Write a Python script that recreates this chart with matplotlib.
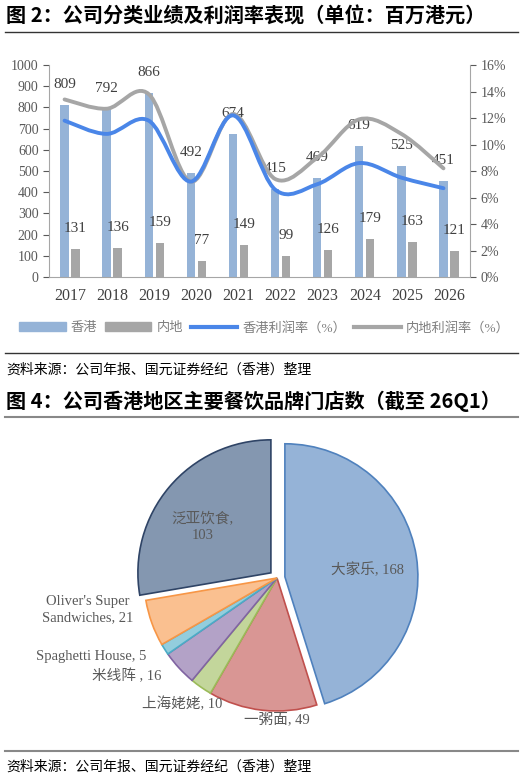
import numpy as np
import matplotlib
matplotlib.use("Agg")
import matplotlib.pyplot as plt
from matplotlib.path import Path
from matplotlib.patches import PathPatch, Patch
from matplotlib.lines import Line2D

FAM = ['Liberation Serif', 'Noto Sans CJK SC']
plt.rcParams['font.family'] = FAM

years = ['2017','2018','2019','2020','2021','2022','2023','2024','2025','2026']
hk = [809, 792, 866, 492, 674, 415, 469, 619, 525, 451]
ml = [131, 136, 159, 77, 149, 99, 126, 179, 163, 121]
hk_margin = [11.8, 10.8, 11.8, 7.2, 12.2, 6.6, 7.0, 8.6, 7.5, 6.7]
ml_margin = [13.4, 12.7, 13.8, 7.2, 12.3, 7.4, 9.0, 11.9, 10.8, 8.2]

brands = ['大家乐', '一粥面', '上海姥姥', '米线阵', 'Spaghetti House', "Oliver's Super Sandwiches", '泛亚饮食']
stores = [168, 49, 10, 16, 5, 21, 103]

W, H = 529, 780
fig = plt.figure(figsize=(W/100, H/100), dpi=100)

def fy(py): return 1 - py/H
def fx(px): return px/W

# headers
fig.text(fx(6), fy(16), '图 2：公司分类业绩及利润率表现（单位：百万港元）', fontsize=14.5, fontweight='bold',
         family=['Noto Sans CJK SC'], va='center')
fig.add_artist(Line2D([fx(5), fx(518)], [fy(32)]*2, color='#333333', lw=1))
fig.add_artist(Line2D([fx(5), fx(518)], [fy(353)]*2, color='#333333', lw=1))
fig.text(fx(6), fy(370), '资料来源：公司年报、国元证券经纪（香港）整理', fontsize=10, style='italic',
         family=['Noto Sans CJK SC'], va='center')
fig.text(fx(6), fy(401), '图 4：公司香港地区主要餐饮品牌门店数（截至 26Q1）', fontsize=14.5, fontweight='bold',
         family=['Noto Sans CJK SC'], va='center')
fig.add_artist(Line2D([fx(5), fx(518)], [fy(417)]*2, color='#888888', lw=1.5))
fig.add_artist(Line2D([fx(5), fx(518)], [fy(751)]*2, color='#888888', lw=1.5))
fig.text(fx(6), fy(767), '资料来源：公司年报、国元证券经纪（香港）整理', fontsize=10, style='italic',
         family=['Noto Sans CJK SC'], va='center')

# ---- top chart
ax = fig.add_axes([fx(49), fy(277), fx(421), (277-65)/H])
x = np.arange(len(years))
c_hk, c_ml = '#95B3D7', '#A6A6A6'
ax.bar(x-0.13, hk, 0.2, color=c_hk)
ax.bar(x+0.13, ml, 0.2, color=c_ml)
for i in range(len(x)):
    ax.text(x[i]-0.13, hk[i]+97, str(hk[i]), ha='center', va='center', fontsize=11, color='#404040')
    ax.text(x[i]+0.13, ml[i]+97, str(ml[i]), ha='center', va='center', fontsize=11, color='#404040')
ax.set_ylim(0, 1000)
ax.set_xlim(-0.5, len(x)-0.5)
ax.set_yticks(range(0, 1001, 100))
ax.set_xticks(x)
ax.set_xticklabels(years, fontsize=11.5, color='#404040')
ax.tick_params(axis='y', labelsize=10, colors='#595959', length=4)
ax.tick_params(axis='x', length=0, pad=8)
for s in ['top', 'right']:
    ax.spines[s].set_visible(False)
ax.spines['left'].set_color('#A6A6A6')
ax.spines['bottom'].set_color('#A6A6A6')

ax2 = ax.twinx()
ax2.set_ylim(0, 16)
ax2.set_yticks(range(0, 17, 2))
ax2.set_yticklabels([f'{v}%' for v in range(0, 17, 2)])
ax2.tick_params(axis='y', labelsize=10, colors='#595959', length=4)
for s in ['top', 'left', 'bottom']:
    ax2.spines[s].set_visible(False)
ax2.spines['right'].set_color('#A6A6A6')

def smooth(axis, xs, ys, color, lw):
    xs = np.asarray(xs, float); ys = np.asarray(ys, float)
    verts = [(xs[0], ys[0])]; codes = [Path.MOVETO]
    n = len(xs)
    for i in range(n-1):
        p0 = (xs[max(i-1, 0)], ys[max(i-1, 0)])
        p1 = (xs[i], ys[i]); p2 = (xs[i+1], ys[i+1])
        p3 = (xs[min(i+2, n-1)], ys[min(i+2, n-1)])
        t = 1/6
        c1 = (p1[0]+(p2[0]-p0[0])*t, p1[1]+(p2[1]-p0[1])*t)
        c2 = (p2[0]-(p3[0]-p1[0])*t, p2[1]-(p3[1]-p1[1])*t)
        verts += [c1, c2, p2]; codes += [Path.CURVE4]*3
    axis.add_patch(PathPatch(Path(verts, codes), fill=False, edgecolor=color, lw=lw, capstyle='round'))

smooth(ax2, x-0.13, ml_margin, '#A6A6A6', 2.8)
smooth(ax2, x-0.13, hk_margin, '#4A86E8', 2.8)

handles = [Patch(color=c_hk), Patch(color=c_ml),
           Line2D([], [], color='#4A86E8', lw=3), Line2D([], [], color='#A6A6A6', lw=3)]
labels = ['香港', '内地', '香港利润率（%）', '内地利润率（%）']
fig.legend(handles, labels, loc='center', bbox_to_anchor=(0.5, fy(328)), ncol=4, frameon=False,
           fontsize=9.5, labelcolor='#7F7F7F', handlelength=3.5, columnspacing=0.6, handletextpad=0.4)

# ---- pie
cx, cy, r = 277, 578, 133
axp = fig.add_axes([fx(cx-1.4*r), fy(cy+1.4*r), 2.8*r/W, 2.8*r/H])
colors = ['#95B3D7', '#D99694', '#C3D69B', '#B3A2C7', '#93CDDD', '#FAC090', '#8497B0']
edges = ['#4F81BD', '#C0504D', '#9BBB59', '#8064A2', '#4BACC6', '#F79646', '#2F4466']
explode = [0.06, 0, 0, 0, 0, 0, 0.06]
wedges, _ = axp.pie(stores, colors=colors, startangle=90, counterclock=False, explode=explode,
                    wedgeprops=dict(linewidth=1.2))
for w, e in zip(wedges, edges):
    w.set_edgecolor(e)
axp.set_xlim(-1.4, 1.4); axp.set_ylim(-1.4, 1.4)
axp.set_aspect('equal')
axp.axis('off')
lab = [('大家乐, 168', 0.68, 0.06), ('一粥面, 49', 0.0, -1.06), ('上海姥姥, 10', -0.71, -0.95),
       ('米线阵 , 16', -1.13, -0.74), ('Spaghetti House, 5', -1.40, -0.59),
       ("Oliver's Super\nSandwiches, 21", -1.42, -0.24), ('泛亚饮食,\n103', -0.56, 0.38)]
for t, lx, ly in lab:
    axp.text(lx, ly, t, ha='center', va='center', fontsize=10.5, color='#595959',
             linespacing=1.3, clip_on=False)

fig.savefig('out.png', dpi=100)
